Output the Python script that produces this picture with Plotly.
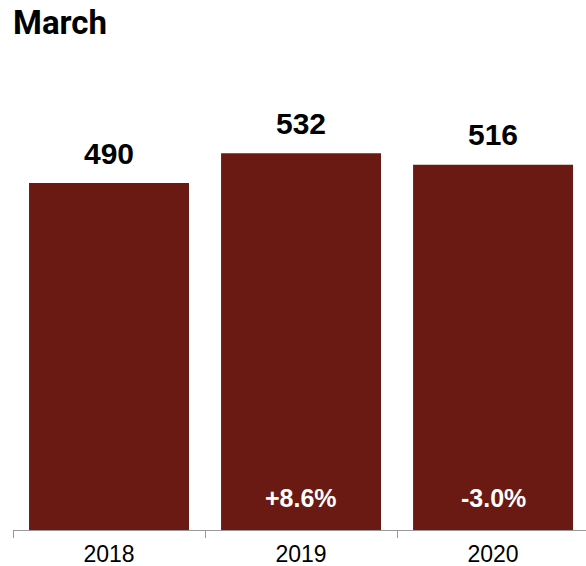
import plotly.graph_objects as go

years = ["2018", "2019", "2020"]
visits = [490, 532, 516]
changes = ["", "+8.6%", "-3.0%"]

bar_color = "#6a1a13"
label_font = "Liberation Sans, Arial, sans-serif"

fig = go.Figure(
    go.Bar(
        x=years,
        y=visits,
        marker=dict(color=bar_color, line=dict(width=0)),
        width=0.833,
        hoverinfo="skip",
    )
)

# bold totals above each bar (x given as category index)
for i, v in enumerate(visits):
    fig.add_annotation(
        x=i, y=v, text=f"<b>{v}</b>", showarrow=False,
        yanchor="middle", yshift=30,
        font=dict(family=label_font, size=30, color="#000"),
    )

# year-over-year change near the base of the bar
for i, c in enumerate(changes):
    if c:
        fig.add_annotation(
            x=i, y=0, text=f"<b>{c}</b>", showarrow=False,
            yanchor="middle", yshift=32,
            font=dict(family=label_font, size=25, color="#fff"),
        )

fig.update_layout(
    width=586, height=566,
    margin=dict(l=13, r=0, t=80, b=36),
    paper_bgcolor="white", plot_bgcolor="white",
    showlegend=False,
    bargap=0.167,
    title=dict(
        text="<b>March</b>",
        x=13 / 586, xref="container", xanchor="left",
        y=1 - 22 / 566, yref="container", yanchor="middle",
        font=dict(family="Roboto, Liberation Sans, sans-serif", size=33, color="#000"),
    ),
)

fig.update_xaxes(
    type="category",
    range=[-0.5, 2.484],
    tickson="boundaries",
    ticks="outside", ticklen=7, tickcolor="#999", tickwidth=1,
    ticklabelstandoff=3,
    showline=True, linecolor="#999", linewidth=1,
    showgrid=False, zeroline=False,
    tickfont=dict(family=label_font, size=23, color="#000"),
)
fig.update_yaxes(
    range=[0, 635.6], visible=False, showgrid=False, zeroline=False,
)

fig.write_html("out.html")
